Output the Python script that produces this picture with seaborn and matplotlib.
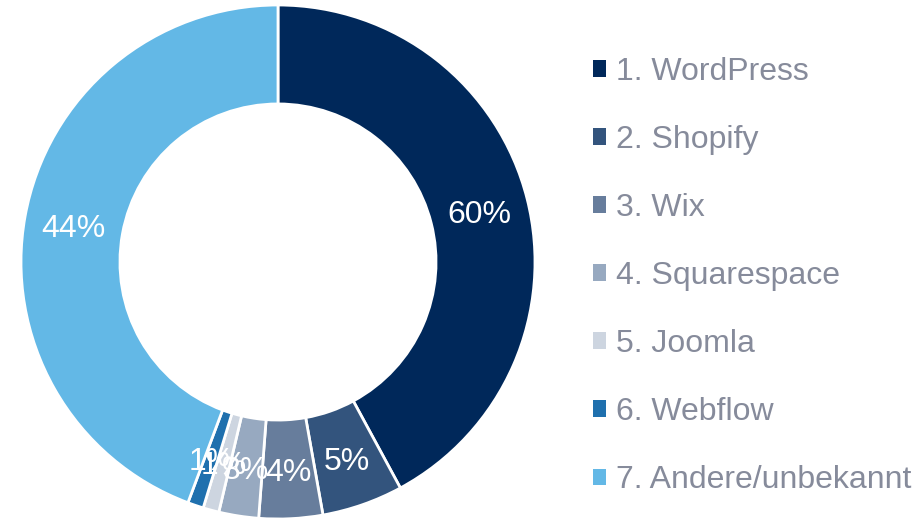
import matplotlib
matplotlib.use("Agg")
import matplotlib.pyplot as plt
import seaborn as sns
import numpy as np

categories = ["1. WordPress", "2. Shopify", "3. Wix", "4. Squarespace",
              "5. Joomla", "6. Webflow", "7. Andere/unbekannt"]
values = [42.1, 5.1, 4.0, 2.5, 1.0, 1.0, 44.3]
value_labels = ["60%", "5%", "4%", "3%", "1%", "1%", "44%"]
colors = ["#00285a", "#33547d", "#677d9c", "#97a9c0", "#cdd5e0", "#1f70ae", "#63b8e6"]

sns.set_theme(style="white")
plt.rcParams['font.family'] = ['Liberation Sans', 'DejaVu Sans']

fig = plt.figure(figsize=(9.22, 5.22), dpi=100)
W, H = 922, 522
cx, cy, R = 278, 262, 257
ax = fig.add_axes([(cx - R) / W, (H - cy - R) / H, 2 * R / W, 2 * R / H])
ax.set_aspect("equal")

wedges, _ = ax.pie(values, colors=colors, startangle=90, counterclock=False,
                   radius=1.0, wedgeprops=dict(width=0.385, edgecolor="white", linewidth=2))
ax.set_xlim(-1, 1)
ax.set_ylim(-1, 1)
ax.axis("off")

rmid = 1.0 - 0.385 / 2
for w, lab in zip(wedges, value_labels):
    ang = np.deg2rad((w.theta1 + w.theta2) / 2)
    ax.text(rmid * np.cos(ang), rmid * np.sin(ang) - 0.015, lab, color="white",
            fontsize=23, ha="center", va="center")

leg = fig.legend(wedges, categories, loc="upper left",
                 bbox_to_anchor=(593 / W, 1 - 57 / H), frameon=False,
                 borderaxespad=0, borderpad=0,
                 fontsize=23, handlelength=0.41, handleheight=0.41,
                 handletextpad=0.31, labelspacing=1.19, labelcolor="#868b9b")
for h in leg.legend_handles:
    h.set_edgecolor("none")

fig.savefig("out.png", dpi=100)
